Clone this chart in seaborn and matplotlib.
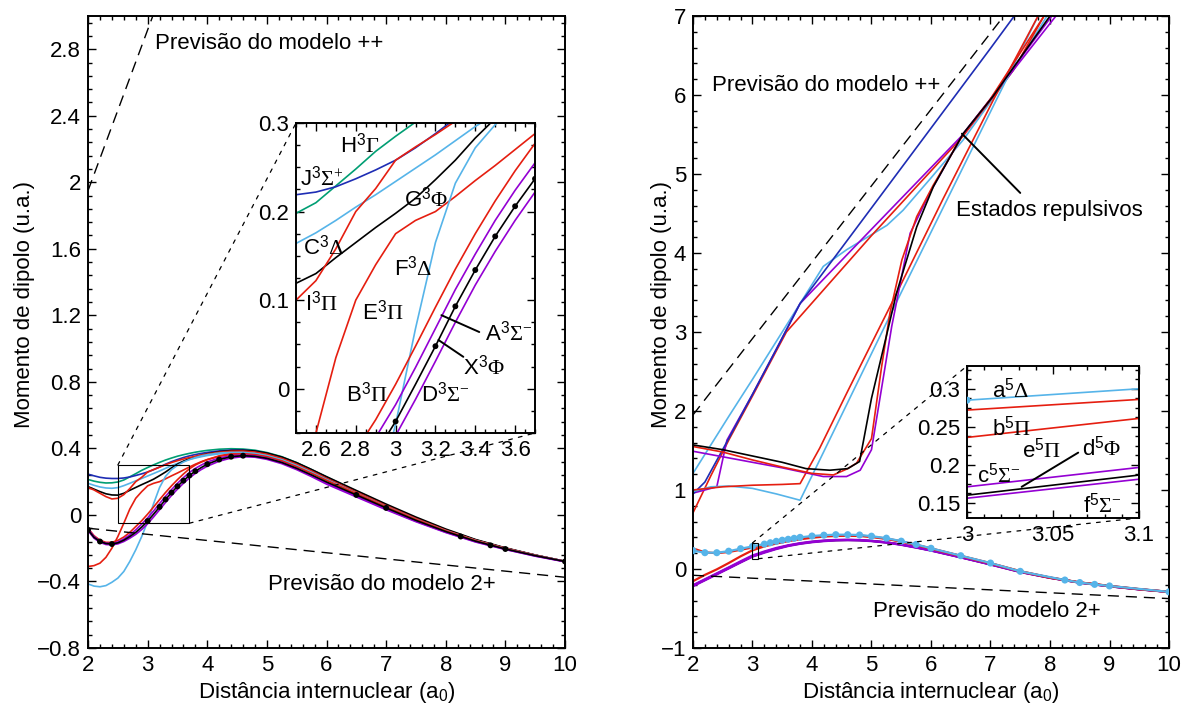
import matplotlib
matplotlib.use("Agg")
import matplotlib.pyplot as plt
import seaborn as sns
from matplotlib.patches import Rectangle, ConnectionPatch
from matplotlib.ticker import MultipleLocator, AutoMinorLocator, FuncFormatter

# ---------------------------------------------------------------- data
# Internuclear distance grid (a0) for the triplet states (left panel)
r_left = [2.0, 2.1, 2.2, 2.3, 2.4, 2.5, 2.6, 2.7, 2.8, 2.9, 3.0, 3.1, 3.2, 3.3, 3.4,
          3.5, 3.6, 3.7, 3.8, 3.9, 4.0, 4.2, 4.4, 4.6, 4.8, 5.0, 5.25, 5.5, 5.75,
          6.0, 6.5, 7.0, 7.5, 8.0, 8.5, 9.0, 9.5, 10.0]

mu_X3Phi = [-0.09, -0.135, -0.16, -0.172, -0.175, -0.168, -0.152, -0.13, -0.105, -0.073,
            -0.037, 0.005, 0.048, 0.093, 0.134, 0.172, 0.206, 0.237, 0.263, 0.285, 0.305,
            0.333, 0.35, 0.356, 0.352, 0.34, 0.315, 0.28, 0.24, 0.198, 0.12, 0.042,
            -0.033, -0.1, -0.158, -0.205, -0.245, -0.28]
mu_A3Sigma = [-0.085, -0.13, -0.158, -0.17, -0.172, -0.163, -0.145, -0.12, -0.09, -0.055,
              -0.018, 0.024, 0.068, 0.112, 0.152, 0.19, 0.224, 0.255, 0.28, 0.3, 0.318,
              0.342, 0.356, 0.36, 0.355, 0.342, 0.316, 0.28, 0.238, 0.192, 0.113, 0.035,
              -0.038, -0.104, -0.161, -0.207, -0.247, -0.281]
mu_D3Sigma = [-0.095, -0.14, -0.165, -0.178, -0.18, -0.174, -0.16, -0.14, -0.117, -0.088,
              -0.053, -0.012, 0.031, 0.075, 0.117, 0.155, 0.19, 0.222, 0.25, 0.273, 0.293,
              0.323, 0.342, 0.35, 0.347, 0.334, 0.308, 0.272, 0.23, 0.185, 0.108, 0.031,
              -0.041, -0.106, -0.163, -0.208, -0.248, -0.282]
mu_B3Pi = [-0.08, -0.125, -0.152, -0.165, -0.165, -0.153, -0.133, -0.105, -0.07, -0.035,
           0.005, 0.048, 0.092, 0.135, 0.175, 0.212, 0.246, 0.277, 0.3, 0.318, 0.332,
           0.352, 0.364, 0.367, 0.362, 0.35, 0.325, 0.29, 0.25, 0.208, 0.128, 0.048,
           -0.028, -0.096, -0.155, -0.203, -0.244, -0.28]
mu_E3Pi = [-0.31, -0.305, -0.29, -0.255, -0.2, -0.13, -0.05, 0.035, 0.1, 0.14,
           0.175, 0.19, 0.2, 0.217, 0.235, 0.252, 0.27, 0.288, 0.305, 0.32, 0.333,
           0.355, 0.368, 0.372, 0.368, 0.356, 0.33, 0.295, 0.255, 0.212, 0.13, 0.05,
           -0.027, -0.095, -0.154, -0.202, -0.243, -0.279]
mu_F3Delta = [-0.415, -0.428, -0.432, -0.425, -0.405, -0.38, -0.34, -0.28, -0.21, -0.13,
              -0.04, 0.068, 0.165, 0.232, 0.272, 0.298, 0.318, 0.333, 0.345, 0.355, 0.362,
              0.372, 0.376, 0.376, 0.37, 0.357, 0.332, 0.297, 0.256, 0.213, 0.13, 0.05,
              -0.027, -0.095, -0.154, -0.202, -0.243, -0.279]
mu_I3Pi = [0.165, 0.15, 0.13, 0.11, 0.096, 0.1, 0.122, 0.158, 0.2, 0.226,
           0.258, 0.273, 0.287, 0.302, 0.315, 0.326, 0.336, 0.345, 0.353, 0.36, 0.366,
           0.377, 0.383, 0.384, 0.378, 0.365, 0.34, 0.305, 0.264, 0.22, 0.137, 0.056,
           -0.022, -0.092, -0.152, -0.2, -0.242, -0.279]
mu_J3Sigma = [0.245, 0.235, 0.226, 0.221, 0.219, 0.219, 0.222, 0.228, 0.237, 0.247,
              0.258, 0.272, 0.288, 0.305, 0.32, 0.333, 0.345, 0.355, 0.363, 0.37, 0.376,
              0.385, 0.39, 0.39, 0.384, 0.37, 0.345, 0.31, 0.268, 0.224, 0.14, 0.058,
              -0.02, -0.09, -0.151, -0.2, -0.242, -0.279]
mu_H3Gamma = [0.213, 0.203, 0.196, 0.192, 0.193, 0.198, 0.21, 0.229, 0.248, 0.268,
              0.285, 0.301, 0.316, 0.33, 0.342, 0.353, 0.362, 0.37, 0.377, 0.383, 0.388,
              0.395, 0.398, 0.396, 0.389, 0.375, 0.35, 0.314, 0.272, 0.228, 0.143, 0.06,
              -0.018, -0.089, -0.15, -0.2, -0.242, -0.279]
mu_C3Delta = [0.19, 0.178, 0.168, 0.162, 0.16, 0.164, 0.176, 0.19, 0.205, 0.219,
              0.234, 0.249, 0.264, 0.28, 0.296, 0.31, 0.322, 0.333, 0.342, 0.35, 0.357,
              0.367, 0.372, 0.372, 0.367, 0.355, 0.33, 0.296, 0.255, 0.212, 0.13, 0.05,
              -0.027, -0.095, -0.154, -0.202, -0.243, -0.279]
mu_G3Phi = [0.17, 0.155, 0.14, 0.127, 0.12, 0.119, 0.13, 0.148, 0.165, 0.182,
            0.198, 0.215, 0.236, 0.258, 0.283, 0.305, 0.323, 0.338, 0.35, 0.36, 0.368,
            0.38, 0.387, 0.388, 0.384, 0.372, 0.348, 0.314, 0.273, 0.23, 0.147, 0.065,
            -0.013, -0.085, -0.148, -0.198, -0.241, -0.279]

# computed points of the X3Phi ground state
r_X3Phi_pts = [2.0, 2.2, 2.4, 3.0, 3.2, 3.3, 3.4, 3.5, 3.6, 3.7, 3.8, 4.0, 4.2, 4.4, 4.6,
               6.5, 7.0, 8.25, 8.75, 9.0, 10.0]
mu_X3Phi_pts = [-0.09, -0.16, -0.175, -0.037, 0.048, 0.093, 0.134, 0.172, 0.206, 0.237,
                0.263, 0.305, 0.333, 0.35, 0.356, 0.12, 0.042, -0.13, -0.183, -0.205, -0.28]

# Quintet states (right panel)
r_right = [2.0, 2.2, 2.4, 2.6, 2.8, 3.0, 3.2, 3.4, 3.6, 3.8, 4.0, 4.2, 4.4, 4.6, 4.8,
           5.0, 5.25, 5.5, 5.75, 6.0, 6.5, 7.0, 7.5, 8.0, 8.5, 9.0, 9.5, 10.0]
r_a5Delta = [2.0, 2.2, 2.4, 2.6, 2.8, 3.0, 3.2, 3.3, 3.4, 3.5, 3.6, 3.7, 3.8, 4.0, 4.2,
             4.4, 4.6, 4.8, 5.0, 5.25, 5.5, 5.75, 6.0, 6.5, 7.0, 7.5, 8.25, 8.5, 8.75,
             9.0, 10.0]
mu_a5Delta = [0.232, 0.206, 0.206, 0.225, 0.257, 0.285, 0.315, 0.332, 0.35, 0.364, 0.376,
              0.388, 0.4, 0.417, 0.428, 0.434, 0.434, 0.43, 0.415, 0.39, 0.352, 0.31,
              0.262, 0.168, 0.075, -0.03, -0.14, -0.172, -0.195, -0.215, -0.29]
mu_b5Pi = [0.26, 0.21, 0.2, 0.215, 0.243, 0.272, 0.30, 0.336, 0.365, 0.39, 0.407, 0.42,
           0.427, 0.428, 0.423, 0.41, 0.385, 0.35, 0.307, 0.26, 0.166, 0.073, -0.028,
           -0.108, -0.17, -0.214, -0.255, -0.29]
mu_e5Pi = [-0.155, -0.075, -0.005, 0.075, 0.16, 0.236, 0.286, 0.322, 0.352, 0.376, 0.395,
           0.41, 0.418, 0.42, 0.417, 0.405, 0.38, 0.346, 0.304, 0.257, 0.164, 0.071,
           -0.03, -0.11, -0.171, -0.215, -0.256, -0.29]
mu_c5Sigma = [-0.205, -0.13, -0.055, 0.02, 0.097, 0.171, 0.222, 0.266, 0.3, 0.327, 0.347,
              0.36, 0.368, 0.37, 0.367, 0.357, 0.338, 0.31, 0.275, 0.237, 0.15, 0.06,
              -0.035, -0.11, -0.172, -0.218, -0.257, -0.29]
mu_d5Phi = [-0.212, -0.138, -0.063, 0.012, 0.087, 0.160, 0.213, 0.258, 0.295, 0.322, 0.342,
            0.356, 0.364, 0.367, 0.364, 0.355, 0.336, 0.308, 0.273, 0.235, 0.148, 0.058,
            -0.037, -0.112, -0.173, -0.219, -0.258, -0.29]
mu_f5Sigma = [-0.218, -0.144, -0.069, 0.006, 0.082, 0.156, 0.206, 0.252, 0.29, 0.318, 0.338,
              0.352, 0.361, 0.364, 0.361, 0.352, 0.333, 0.305, 0.27, 0.232, 0.146, 0.056,
              -0.039, -0.113, -0.174, -0.22, -0.259, -0.291]

# Repulsive quintet states (right panel)
r_rep_black = [2.0, 2.5, 3.0, 3.5, 3.9, 4.3, 4.6, 4.8, 5.0, 5.26, 5.42, 5.76, 6.04, 6.54, 7.04, 8.0]
mu_rep_black = [1.57, 1.51, 1.43, 1.35, 1.27, 1.25, 1.27, 1.36, 2.16, 2.98, 3.49, 4.33, 4.84, 5.51, 5.98, 7.0]
r_rep_red1 = [2.0, 2.5, 3.0, 3.5, 4.0, 4.36, 4.6, 4.75, 5.0, 5.17, 5.31, 5.51, 5.76, 6.04, 6.54, 7.0, 7.9]
mu_rep_red1 = [1.55, 1.48, 1.38, 1.29, 1.21, 1.19, 1.27, 1.34, 1.65, 2.56, 3.24, 3.91, 4.46, 4.86, 5.5, 5.95, 7.0]
r_rep_violet1 = [2.0, 2.5, 3.0, 3.5, 4.19, 4.58, 4.81, 5.0, 5.34, 5.65, 5.98, 6.54, 6.99, 8.03]
mu_rep_violet1 = [1.49, 1.42, 1.35, 1.28, 1.17, 1.17, 1.25, 1.51, 3.07, 4.25, 4.76, 5.51, 5.94, 7.0]
r_rep_red2 = [2.0, 2.5, 3.0, 3.5, 3.8, 4.13, 4.6, 5.37, 6.2, 7.05, 7.8]
mu_rep_red2 = [1.0, 1.04, 1.06, 1.07, 1.08, 1.53, 2.25, 3.41, 4.68, 5.94, 7.0]
r_rep_sky2 = [2.0, 2.3, 2.6, 3.0, 3.4, 3.8, 4.13, 5.5, 7.1, 7.8]
mu_rep_sky2 = [0.98, 1.04, 1.05, 1.02, 0.95, 0.87, 1.38, 3.5, 5.94, 7.0]
r_rep_sky1 = [2.0, 2.6, 3.0, 3.4, 3.8, 4.19, 4.58, 5.26, 5.53, 6.0, 6.54, 7.38, 7.95]
mu_rep_sky1 = [1.21, 1.93, 2.4, 2.88, 3.36, 3.83, 4.04, 4.35, 4.54, 4.95, 5.43, 6.31, 7.0]
r_rep_blue = [2.0, 2.2, 2.6, 3.0, 3.4, 3.8, 5.0, 6.0, 7.0, 7.4]
mu_rep_blue = [0.95, 1.1, 1.65, 2.21, 2.78, 3.36, 4.57, 5.58, 6.59, 7.0]
r_rep_violet2 = [2.0, 2.4, 2.57, 3.0, 3.4, 3.8, 5.0, 6.0, 6.54, 7.38, 8.1]
mu_rep_violet2 = [0.96, 1.04, 1.63, 2.21, 2.78, 3.36, 4.3, 5.08, 5.5, 6.31, 7.0]
r_rep_red3 = [2.0, 2.3, 2.6, 3.0, 3.4, 3.57, 5.0, 6.54, 7.38, 7.9]
mu_rep_red3 = [0.71, 1.18, 1.63, 2.19, 2.76, 3.0, 4.22, 5.48, 6.31, 7.0]

# Simple ionic-model predictions
r_model_pp = [2.0, 8.0]
mu_model_pp = [1.95, 7.75]
r_model_2p = [2.0, 10.0]
mu_model_2p = [-0.08, -0.375]

# Zoomed windows
zoomL_xlim, zoomL_ylim = (2.5, 3.7), (-0.05, 0.3)
zoomR_xlim, zoomR_ylim = (3.0, 3.1), (0.13, 0.33)

# ---------------------------------------------------------------- style
RED = "#e51e10"
SKY = "#56b4e9"
GREEN = "#009e73"
BLUE = "#1e2db4"
VIOLET = "#9400d3"
BLACK = "black"

sns.set_theme(style="ticks")
plt.rcParams.update({
    "font.family": ["Liberation Sans", "DejaVu Sans"],
    "font.size": 16,
    "mathtext.fontset": "custom",
    "mathtext.rm": "Liberation Serif",
    "mathtext.it": "Liberation Serif:italic",
    "mathtext.sf": "Liberation Sans",
    "axes.linewidth": 1.4,
    "axes.edgecolor": "black",
    "xtick.color": "black",
    "ytick.color": "black",
    "axes.labelcolor": "black",
    "text.color": "black",
})
FS = 16


def fmt(v, pos):
    if abs(v) < 1e-9:
        v = 0.0
    return f"{v:g}".replace("-", "\u2212")


def style_axes(ax, xmaj, xmin_n, ymaj, ymin_n, size=FS):
    ax.xaxis.set_major_locator(MultipleLocator(xmaj))
    ax.xaxis.set_minor_locator(AutoMinorLocator(xmin_n))
    ax.yaxis.set_major_locator(MultipleLocator(ymaj))
    ax.yaxis.set_minor_locator(AutoMinorLocator(ymin_n))
    ax.xaxis.set_major_formatter(FuncFormatter(fmt))
    ax.yaxis.set_major_formatter(FuncFormatter(fmt))
    ax.tick_params(which="both", direction="in", top=True, right=True, width=1.0,
                   labelsize=size, pad=5)
    ax.tick_params(which="major", length=6)
    ax.tick_params(which="minor", length=3.2)
    for s in ax.spines.values():
        s.set_linewidth(1.4)


def trace(ax, r, mu, color, lw=1.2, z=2, **kw):
    sns.lineplot(x=r, y=mu, ax=ax, color=color, linewidth=lw, sort=False,
                 estimator=None, legend=False, zorder=z, **kw)


def triplets(ax):
    trace(ax, r_left, mu_H3Gamma, GREEN)
    trace(ax, r_left, mu_J3Sigma, BLUE)
    trace(ax, r_left, mu_C3Delta, SKY)
    trace(ax, r_left, mu_G3Phi, BLACK)
    trace(ax, r_left, mu_I3Pi, RED)
    trace(ax, r_left, mu_E3Pi, RED)
    trace(ax, r_left, mu_F3Delta, SKY)
    trace(ax, r_left, mu_B3Pi, RED)
    trace(ax, r_left, mu_A3Sigma, VIOLET)
    trace(ax, r_left, mu_D3Sigma, VIOLET)
    trace(ax, r_left, mu_X3Phi, BLACK, z=3)
    sns.scatterplot(x=r_X3Phi_pts, y=mu_X3Phi_pts, ax=ax, color=BLACK, s=18,
                    edgecolor="none", zorder=4, legend=False)


def quintets(ax, lw=1.2):
    trace(ax, r_right, mu_d5Phi, BLACK, lw=lw)
    trace(ax, r_right, mu_c5Sigma, VIOLET, lw=lw)
    trace(ax, r_right, mu_f5Sigma, VIOLET, lw=lw)
    trace(ax, r_right, mu_e5Pi, RED, lw=lw)
    trace(ax, r_right, mu_b5Pi, RED, lw=lw)
    trace(ax, r_a5Delta, mu_a5Delta, SKY, lw=lw)
    sns.scatterplot(x=r_a5Delta, y=mu_a5Delta, ax=ax, color=SKY, s=26,
                    edgecolor="none", zorder=4, legend=False)


def pointer(ax, p0, p1):
    ax.annotate("", xy=p1, xytext=p0,
                arrowprops=dict(arrowstyle="-", color="black", lw=1.4, shrinkA=0, shrinkB=0))


# ---------------------------------------------------------------- figure
fig = plt.figure(figsize=(11.85, 7.06), dpi=100)
axL = fig.add_axes([0.0743, 0.0822, 0.4025, 0.8952])
axR = fig.add_axes([0.5848, 0.0822, 0.4017, 0.8952])

# ---- left panel: triplet states
triplets(axL)
trace(axL, r_model_pp, mu_model_pp, BLACK, lw=1.0, dashes=(8, 5))
trace(axL, r_model_2p, mu_model_2p, BLACK, lw=1.0, dashes=(8, 5))
axL.set_xlim(2, 10)
axL.set_ylim(-0.8, 3.0)
style_axes(axL, 1, 5, 0.4, 5)
axL.set_xlabel(r"Distância internuclear (a$_{\mathsf{0}}$)", fontsize=FS)
axL.set_ylabel("Momento de dipolo (u.a.)", fontsize=FS)
axL.xaxis.set_label_coords(0.5, -0.05)
axL.yaxis.set_label_coords(-0.112, 0.543)
axL.text(3.12, 2.80, "Previsão do modelo ++", fontsize=FS, va="baseline")
axL.text(5.02, -0.45, "Previsão do modelo 2+", fontsize=FS, va="baseline")
axL.add_patch(Rectangle((zoomL_xlim[0], zoomL_ylim[0]), zoomL_xlim[1] - zoomL_xlim[0],
                        zoomL_ylim[1] - zoomL_ylim[0], fill=False, lw=0.8, ec="black", zorder=5))

insL = fig.add_axes([0.2498, 0.3867, 0.2017, 0.4391], zorder=3)
insL.set_facecolor("white")
triplets(insL)
insL.set_xlim(*zoomL_xlim)
insL.set_ylim(*zoomL_ylim)
style_axes(insL, 0.2, 4, 0.1, 4)
insL.set_xlabel("")
insL.set_ylabel("")
for txt, x, y in [(r"H$^{\mathsf{3}}\Gamma$", 2.72, 0.267),
                  (r"J$^{\mathsf{3}}\Sigma^{+}$", 2.52, 0.229),
                  (r"G$^{\mathsf{3}}\Phi$", 3.04, 0.206),
                  (r"C$^{\mathsf{3}}\Delta$", 2.535, 0.151),
                  (r"F$^{\mathsf{3}}\Delta$", 2.99, 0.128),
                  (r"I$^{\mathsf{3}}\Pi$", 2.545, 0.088),
                  (r"E$^{\mathsf{3}}\Pi$", 2.83, 0.078),
                  (r"A$^{\mathsf{3}}\Sigma^{-}$", 3.45, 0.054),
                  (r"X$^{\mathsf{3}}\Phi$", 3.34, 0.016),
                  (r"D$^{\mathsf{3}}\Sigma^{-}$", 3.13, -0.014),
                  (r"B$^{\mathsf{3}}\Pi$", 2.75, -0.014)]:
    insL.text(x, y, txt, fontsize=FS, va="baseline", zorder=6)
pointer(insL, (3.42, 0.064), (3.23, 0.083))
pointer(insL, (3.34, 0.036), (3.215, 0.055))

for xyA, xyB in [((zoomL_xlim[0], zoomL_ylim[1]), (0, 1)),
                 ((zoomL_xlim[1], zoomL_ylim[0]), (1, 0))]:
    fig.add_artist(ConnectionPatch(xyA=xyA, coordsA=axL.transData, xyB=xyB,
                                   coordsB=insL.transAxes, color="black", lw=0.9,
                                   linestyle=(0, (3, 5)), zorder=1))

# ---- right panel: quintet states
trace(axR, r_rep_sky1, mu_rep_sky1, SKY)
trace(axR, r_rep_red3, mu_rep_red3, RED)
trace(axR, r_rep_violet2, mu_rep_violet2, VIOLET)
trace(axR, r_rep_blue, mu_rep_blue, BLUE)
trace(axR, r_rep_sky2, mu_rep_sky2, SKY)
trace(axR, r_rep_red2, mu_rep_red2, RED)
trace(axR, r_rep_violet1, mu_rep_violet1, VIOLET)
trace(axR, r_rep_red1, mu_rep_red1, RED)
trace(axR, r_rep_black, mu_rep_black, BLACK)
quintets(axR, lw=1.6)
trace(axR, r_model_pp, mu_model_pp, BLACK, lw=1.0, dashes=(8, 5))
trace(axR, r_model_2p, mu_model_2p, BLACK, lw=1.0, dashes=(8, 5))
axR.set_xlim(2, 10)
axR.set_ylim(-1, 7)
style_axes(axR, 1, 5, 1, 5)
axR.set_xlabel(r"Distância internuclear (a$_{\mathsf{0}}$)", fontsize=FS)
axR.set_ylabel("Momento de dipolo (u.a.)", fontsize=FS)
axR.xaxis.set_label_coords(0.5, -0.05)
axR.yaxis.set_label_coords(-0.045, 0.543)
axR.text(2.32, 6.05, "Previsão do modelo ++", fontsize=FS, va="baseline")
axR.text(5.02, -0.61, "Previsão do modelo 2+", fontsize=FS, va="baseline")
axR.text(6.42, 4.47, "Estados repulsivos", fontsize=FS, va="baseline")
pointer(axR, (7.5, 4.76), (6.52, 5.51))
axR.add_patch(Rectangle((zoomR_xlim[0], zoomR_ylim[0]), zoomR_xlim[1] - zoomR_xlim[0],
                        zoomR_ylim[1] - zoomR_ylim[0], fill=False, lw=0.8, ec="black", zorder=5))

insR = fig.add_axes([0.816, 0.2663, 0.1451, 0.2153], zorder=3)
insR.set_facecolor("white")
quintets(insR)
insR.set_xlim(*zoomR_xlim)
insR.set_ylim(*zoomR_ylim)
style_axes(insR, 0.05, 5, 0.05, 4)
insR.set_xlabel("")
insR.set_ylabel("")
for txt, x, y in [(r"a$^{\mathsf{5}}\Delta$", 3.0144, 0.289),
                  (r"b$^{\mathsf{5}}\Pi$", 3.0144, 0.238),
                  (r"e$^{\mathsf{5}}\Pi$", 3.032, 0.21),
                  (r"d$^{\mathsf{5}}\Phi$", 3.0667, 0.212),
                  (r"c$^{\mathsf{5}}\Sigma^{-}$", 3.0056, 0.177),
                  (r"f$^{\mathsf{5}}\Sigma^{-}$", 3.0677, 0.137)]:
    insR.text(x, y, txt, fontsize=FS, va="baseline", zorder=6)
pointer(insR, (3.0647, 0.216), (3.0318, 0.171))

for xyA, xyB in [((zoomR_xlim[0], zoomR_ylim[1]), (0, 1)),
                 ((zoomR_xlim[1], zoomR_ylim[0]), (1, 0))]:
    fig.add_artist(ConnectionPatch(xyA=xyA, coordsA=axR.transData, xyB=xyB,
                                   coordsB=insR.transAxes, color="black", lw=0.9,
                                   linestyle=(0, (3, 5)), zorder=1))

fig.savefig("out.png", dpi=100, facecolor="white")
